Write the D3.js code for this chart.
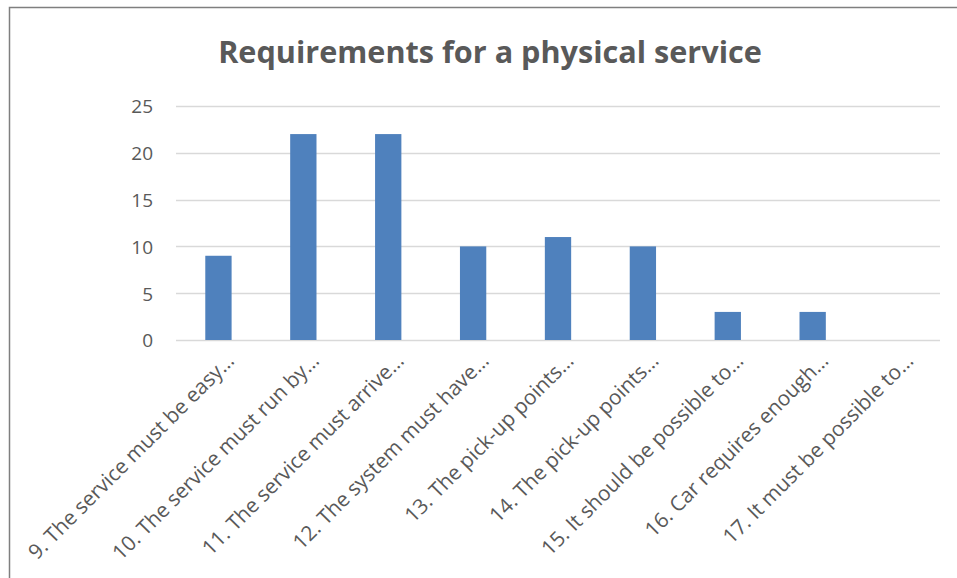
<!DOCTYPE html>
<html>
<head>
<meta charset="utf-8">
<script src="https://cdn.jsdelivr.net/npm/d3@7"></script>
<style>
  html, body { margin: 0; padding: 0; background: #fff; }
  svg { display: block; }
</style>
</head>
<body>
<svg id="chart" width="957" height="578"></svg>
<script>
// Survey responses per requirement
const categories = [
  "9. The service must be easy…",
  "10. The service must run by…",
  "11. The service must arrive…",
  "12. The system must have…",
  "13. The pick-up points…",
  "14. The pick-up points…",
  "15. It should be possible to…",
  "16. Car requires enough…",
  "17. It must be possible to…"
];
const counts = [9, 22, 22, 10, 11, 10, 3, 3, 0];
const yTicks = [0, 5, 10, 15, 20, 25];
const titleText = "Requirements for a physical service";

const svg = d3.select("#chart");
const font = "'Open Sans', Lato, sans-serif";
const textColor = "#595959";

// chart frame (left and top edges fall inside the window)
svg.append("rect")
  .attr("x", 9.5).attr("y", 7.5)
  .attr("width", 960).attr("height", 600)
  .attr("fill", "#fff")
  .attr("stroke", "#7f7f7f")
  .attr("stroke-width", 1.5);

const plot = { left: 176, right: 940, top: 106, bottom: 340 };

const x = d3.scaleBand()
  .domain(categories)
  .range([plot.left, plot.right])
  .paddingInner(0.69)
  .paddingOuter(0.345);

const y = d3.scaleLinear()
  .domain([0, 25])
  .range([plot.bottom, plot.top]);

// horizontal gridlines
svg.append("g")
  .selectAll("line")
  .data(yTicks)
  .join("line")
  .attr("x1", plot.left).attr("x2", plot.right)
  .attr("y1", d => Math.round(y(d)) + 0.5)
  .attr("y2", d => Math.round(y(d)) + 0.5)
  .attr("stroke", "#d9d9d9")
  .attr("stroke-width", 1.5);

// y axis labels
const yAxis = d3.axisLeft(y).tickValues(yTicks).tickSize(0).tickPadding(0);
const yg = svg.append("g")
  .attr("transform", `translate(${plot.left - 23},0)`)
  .call(yAxis);
yg.select(".domain").remove();
yg.selectAll("text")
  .attr("font-family", font)
  .attr("font-size", 19)
  .attr("fill", textColor)
  .attr("dy", "0.36em");

// bars
svg.append("g")
  .selectAll("rect")
  .data(categories.map((c, i) => ({ c, v: counts[i] })))
  .join("rect")
  .attr("x", d => x(d.c))
  .attr("width", x.bandwidth())
  .attr("y", d => y(d.v))
  .attr("height", d => y(0) - y(d.v))
  .attr("fill", "#4f81bd");

// rotated category labels
const xAxis = d3.axisBottom(x).tickSize(0).tickPadding(0);
const xg = svg.append("g")
  .attr("transform", `translate(0,${plot.bottom})`)
  .call(xAxis);
xg.select(".domain").remove();
const labels = xg.selectAll("text")
  .attr("font-family", font)
  .attr("font-size", 16)
  .attr("fill", textColor)
  .attr("text-anchor", "end")
  .attr("dy", 0)
  .attr("y", 0)
  .attr("transform", "translate(17,22) rotate(-45)");
// size the labels so the first one spans about 281px
const firstLen = labels.node().getComputedTextLength();
labels.attr("font-size", 16 * 281 / firstLen);

// title, sized to span about 544px
const title = svg.append("text")
  .attr("x", 490)
  .attr("y", 63)
  .attr("text-anchor", "middle")
  .attr("font-family", font)
  .attr("font-weight", "bold")
  .attr("font-size", 30)
  .attr("fill", textColor)
  .text(titleText);
const tLen = title.node().getComputedTextLength();
title.attr("font-size", 30 * 544 / tLen);
</script>
</body>
</html>
